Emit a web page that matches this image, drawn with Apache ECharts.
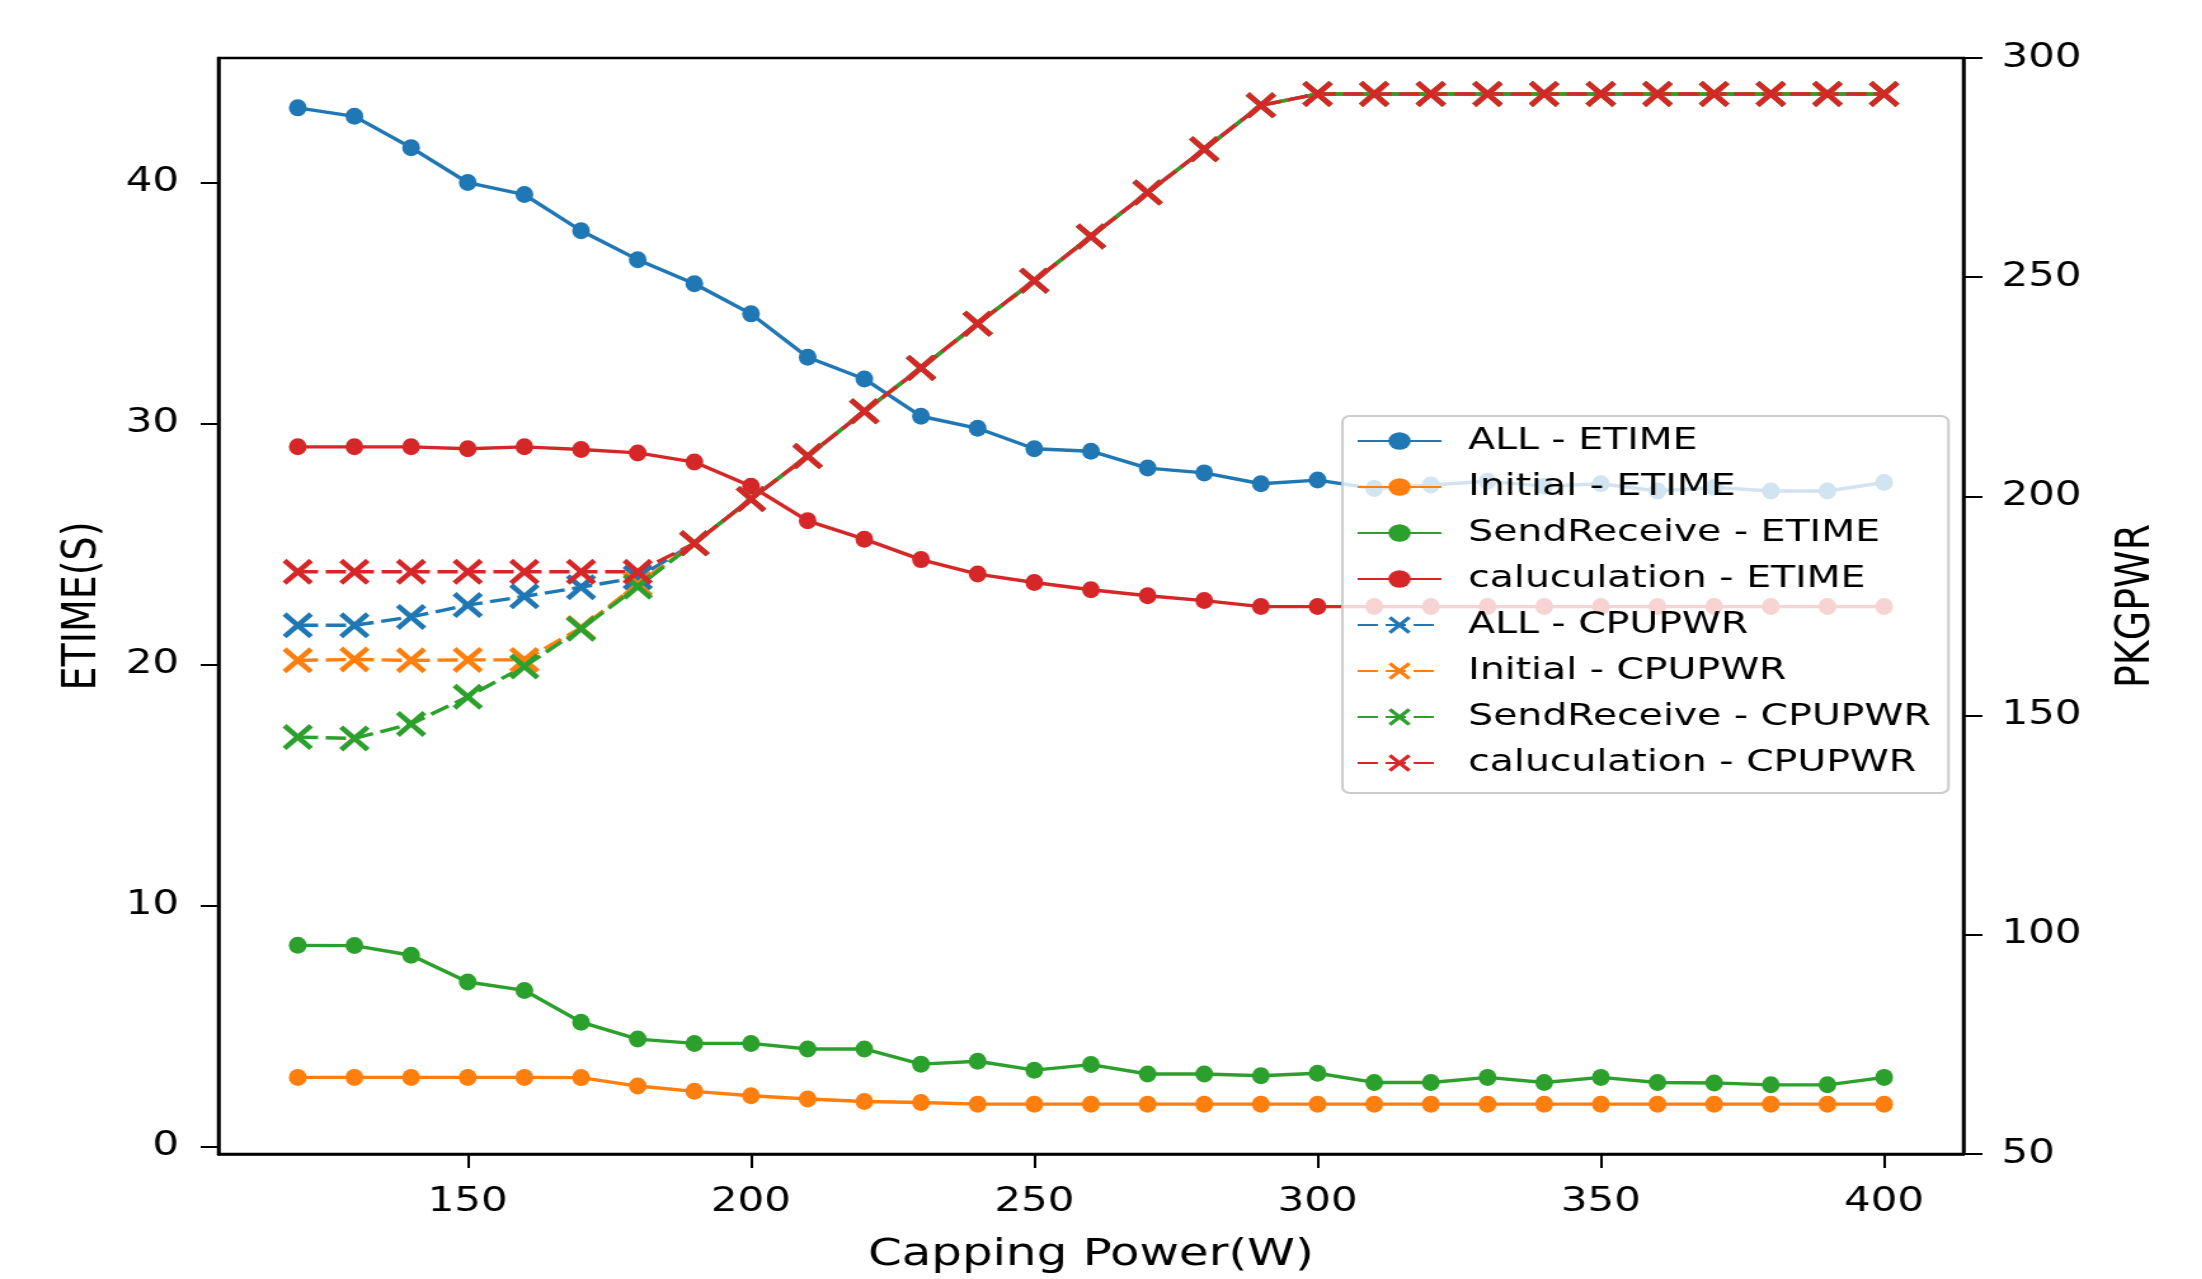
<!DOCTYPE html>
<html>
<head>
<meta charset="utf-8">
<script src="https://cdn.jsdelivr.net/npm/echarts@6.0.0/dist/echarts.min.js"></script>
<style>
html, body { margin: 0; padding: 0; background: #fff; overflow: hidden; }
/* the reference figure is stretched sideways, so the chart is drawn narrower and scaled */
#chart { position: absolute; left: 0; top: 0; width: 1734px; height: 1279px; transform: scaleX(1.27); transform-origin: 0 0; }
</style>
</head>
<body>
<div id="chart"></div>
<script>
// capping power (W)
const power = [120, 130, 140, 150, 160, 170, 180, 190, 200, 210, 220, 230, 240, 250, 260, 270, 280, 290, 300, 310, 320, 330, 340, 350, 360, 370, 380, 390, 400]
const xTicks = [150, 200, 250, 300, 350, 400]
const etimeTicks = [0, 10, 20, 30, 40]

// ETIME (s)
const allEtime = [43.1, 42.75, 41.45, 40.0, 39.5, 38.0, 36.8, 35.8, 34.55, 32.75, 31.85, 30.3, 29.8, 28.95, 28.85, 28.15, 27.95, 27.5, 27.65, 27.3, 27.45, 27.6, 27.4, 27.5, 27.2, 27.35, 27.2, 27.2, 27.55]
const initEtime = [2.86, 2.86, 2.86, 2.86, 2.86, 2.85, 2.5, 2.28, 2.1, 1.96, 1.86, 1.82, 1.75, 1.75, 1.75, 1.75, 1.75, 1.75, 1.75, 1.75, 1.75, 1.75, 1.75, 1.75, 1.75, 1.75, 1.75, 1.75, 1.75]
const sendEtime = [8.34, 8.33, 7.93, 6.82, 6.47, 5.15, 4.45, 4.27, 4.27, 4.04, 4.04, 3.41, 3.53, 3.16, 3.39, 3.0, 3.0, 2.93, 3.03, 2.65, 2.65, 2.86, 2.65, 2.86, 2.65, 2.63, 2.55, 2.55, 2.86]
const calcEtime = [29.03, 29.03, 29.03, 28.95, 29.03, 28.92, 28.78, 28.4, 27.4, 25.96, 25.2, 24.35, 23.75, 23.4, 23.1, 22.85, 22.65, 22.4, 22.4, 22.4, 22.4, 22.4, 22.4, 22.4, 22.4, 22.4, 22.4, 22.4, 22.4]

// CPUPWR (W)
const allPwr = [170.6, 170.6, 172.5, 175.2, 177.2, 179.3, 181.5, 189.3, 199.4, 209.2, 219.4, 229.3, 239.4, 249.2, 259.3, 269.3, 279.2, 289.2, 291.8, 291.8, 291.8, 291.8, 291.8, 291.8, 291.8, 291.8, 291.8, 291.8, 291.8]
const initPwr = [162.6, 162.8, 162.6, 162.7, 162.7, 170.0, 180.0, 189.3, 199.4, 209.2, 219.4, 229.3, 239.4, 249.2, 259.3, 269.3, 279.2, 289.2, 291.8, 291.8, 291.8, 291.8, 291.8, 291.8, 291.8, 291.8, 291.8, 291.8, 291.8]
const sendPwr = [145.1, 144.8, 148.1, 154.3, 161.2, 169.8, 179.4, 189.3, 199.4, 209.2, 219.4, 229.3, 239.4, 249.2, 259.3, 269.3, 279.2, 289.2, 291.8, 291.8, 291.8, 291.8, 291.8, 291.8, 291.8, 291.8, 291.8, 291.8, 291.8]
const calcPwr = [182.8, 182.8, 182.8, 182.8, 182.8, 182.8, 182.8, 189.3, 199.4, 209.2, 219.4, 229.3, 239.4, 249.2, 259.3, 269.3, 279.2, 289.2, 291.8, 291.8, 291.8, 291.8, 291.8, 291.8, 291.8, 291.8, 291.8, 291.8, 291.8]

const font = 'DejaVu Sans'
const crossPath = 'path://M0,13 L13,0 L50,37 L87,0 L100,13 L63,50 L100,87 L87,100 L50,63 L13,100 L0,87 L37,50 Z'

function etimeSeries (name, values, color) {
  return {
    name: name,
    type: 'line',
    yAxisIndex: 0,
    data: power.map((p, i) => [p, values[i]]),
    symbol: 'circle',
    symbolSize: [14, 17],
    showAllSymbol: true,
    lineStyle: { color: color, width: 3.4 },
    itemStyle: { color: color },
    emphasis: { disabled: true },
    z: 2
  }
}

function pwrSeries (name, values, color) {
  return {
    name: name,
    type: 'line',
    yAxisIndex: 1,
    data: power.map((p, i) => [p, values[i]]),
    symbol: crossPath,
    symbolSize: [24, 26],
    showAllSymbol: true,
    lineStyle: { color: color, width: 3.4, type: [16, 6] },
    itemStyle: { color: color },
    emphasis: { disabled: true },
    z: 3
  }
}

const chart = echarts.init(document.getElementById('chart'))
chart.setOption({
  animation: false,
  backgroundColor: '#fff',
  textStyle: { fontFamily: font },
  grid: {
    left: 172, right: 188, top: 58, bottom: 125,
    show: true, borderColor: '#000', borderWidth: 2.5,
    outerBoundsMode: 'none'
  },
  legend: {
    orient: 'vertical',
    left: 1057, top: 416,
    padding: [7, 14, 12, 11],
    itemGap: 10,
    itemWidth: 66,
    itemHeight: 22,
    backgroundColor: 'rgba(255,255,255,0.8)',
    borderColor: '#cccccc',
    borderWidth: 2,
    borderRadius: 6,
    textStyle: { fontFamily: font, fontSize: 31, color: '#000', width: 361, lineHeight: 36, padding: [0, 0, 0, 16] }
  },
  xAxis: {
    type: 'value',
    min: 106, max: 414,
    name: 'Capping Power(W)',
    nameLocation: 'middle',
    nameGap: 82,
    nameTextStyle: { fontFamily: font, fontSize: 38, color: '#000' },
    axisLine: { show: true, onZero: false, lineStyle: { color: '#000', width: 2.5 } },
    axisTick: { show: true, length: 14, lineStyle: { color: '#000', width: 2 }, customValues: xTicks },
    axisLabel: { fontFamily: font, fontSize: 33, color: '#000', margin: 32, customValues: xTicks },
    splitLine: { show: false }
  },
  yAxis: [
    {
      type: 'value',
      position: 'left',
      min: -0.32, max: 45.17,
      name: 'ETIME(S)',
      nameLocation: 'middle',
      nameRotate: 90,
      nameGap: 88,
      nameTextStyle: { fontFamily: font, fontSize: 38, color: '#000' },
      axisLine: { show: true, lineStyle: { color: '#000', width: 2.5 } },
      axisTick: { show: true, length: 14, lineStyle: { color: '#000', width: 2 }, customValues: etimeTicks },
      axisLabel: { fontFamily: font, fontSize: 33, color: '#000', margin: 31, customValues: etimeTicks },
      splitLine: { show: false }
    },
    {
      type: 'value',
      position: 'right',
      min: 50, max: 300, interval: 50,
      name: 'PKGPWR',
      nameLocation: 'middle',
      nameRotate: 90,
      nameGap: 117,
      nameTextStyle: { fontFamily: font, fontSize: 38, color: '#000' },
      axisLine: { show: true, lineStyle: { color: '#000', width: 2.5 } },
      axisTick: { show: true, length: 15, lineStyle: { color: '#000', width: 2 } },
      axisLabel: { fontFamily: font, fontSize: 33, color: '#000', margin: 30 },
      splitLine: { show: false }
    }
  ],
  series: [
    etimeSeries('ALL - ETIME', allEtime, '#1f77b4'),
    etimeSeries('Initial - ETIME', initEtime, '#ff7f0e'),
    etimeSeries('SendReceive - ETIME', sendEtime, '#2ca02c'),
    etimeSeries('caluculation - ETIME', calcEtime, '#d62728'),
    pwrSeries('ALL - CPUPWR', allPwr, '#1f77b4'),
    pwrSeries('Initial - CPUPWR', initPwr, '#ff7f0e'),
    pwrSeries('SendReceive - CPUPWR', sendPwr, '#2ca02c'),
    pwrSeries('caluculation - CPUPWR', calcPwr, '#d62728')
  ]
})
</script>
</body>
</html>
